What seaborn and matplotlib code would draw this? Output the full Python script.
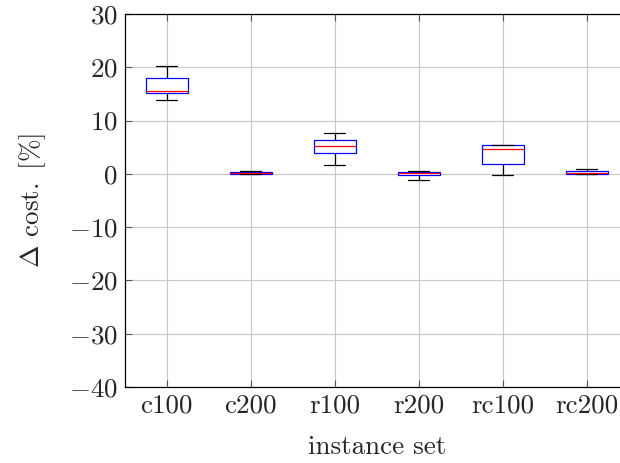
import matplotlib
matplotlib.use("Agg")
import matplotlib.pyplot as plt
import seaborn as sns
import pandas as pd

# Data (five-number summaries)
categories = ["c100", "c200", "r100", "r200", "rc100", "rc200"]
whisker_low = [13.9, -0.05, 1.6, -1.1, -0.2, 0.0]
quartile_1 = [15.1, 0.0, 3.9, -0.3, 1.9, -0.05]
medians = [15.5, 0.1, 5.3, 0.1, 4.7, 0.25]
quartile_3 = [18.0, 0.3, 6.4, 0.4, 5.35, 0.6]
whisker_high = [20.3, 0.5, 7.7, 0.6, 5.5, 0.9]
y_ticks = [-40, -30, -20, -10, 0, 10, 20, 30]

rows = []
for i, c in enumerate(categories):
    for v in (whisker_low[i], quartile_1[i], medians[i], quartile_3[i], whisker_high[i]):
        rows.append({"set": c, "cost": v})
df = pd.DataFrame(rows)

sns.set_style("ticks")
plt.rcParams.update({
    "font.family": ["cmr10", "DejaVu Serif"],
    "mathtext.fontset": "cm",
    "axes.formatter.use_mathtext": True,
    "axes.unicode_minus": True,
    "font.size": 19.5,
    "xtick.direction": "in",
    "ytick.direction": "in",
    "xtick.top": True,
    "ytick.right": True,
})

fig = plt.figure(figsize=(6.2, 4.63), dpi=100)
ax = fig.add_axes([124.7 / 620, 76 / 463, 504 / 620, 373 / 463])

sns.boxplot(
    data=df, x="set", y="cost", order=categories, ax=ax,
    width=0.5, whis=10, color="white", linecolor="blue", linewidth=0.9,
    medianprops={"color": "red", "linewidth": 0.9},
    whiskerprops={"color": "black", "linewidth": 0.9},
    capprops={"color": "black", "linewidth": 0.9},
    zorder=3,
)

ax.set_xlim(-0.5, len(categories) - 0.5)
ax.set_ylim(-40, 30)
ax.set_yticks(y_ticks)
ax.grid(True, color="#c8c8c8", linewidth=0.8, zorder=0)
ax.set_axisbelow(True)
for s in ax.spines.values():
    s.set_linewidth(0.9)
    s.set_color("black")
ax.tick_params(axis="both", length=5, width=0.8, color="#555555", labelsize=19.5, pad=5)
ax.set_xlabel("instance set", fontsize=19.5, labelpad=13)
ax.set_ylabel(r"$\Delta$ cost.$\,$ [%]", fontsize=19.5, labelpad=15)

fig.savefig("out.png", dpi=100)
